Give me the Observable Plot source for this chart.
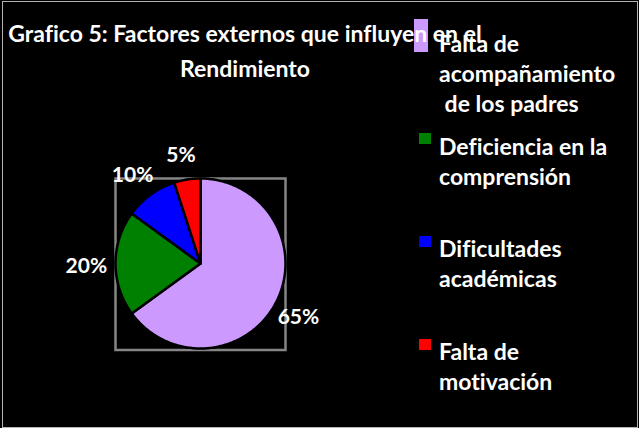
<!DOCTYPE html>
<html>
<head>
<meta charset="utf-8">
<script src="https://cdn.jsdelivr.net/npm/d3@7"></script>
<script src="https://cdn.jsdelivr.net/npm/@observablehq/plot@0.6"></script>
<style>
  html, body { margin: 0; padding: 0; background: #000; width: 639px; height: 428px; overflow: hidden; }
  #wrap { position: relative; width: 639px; height: 428px; font-family: Lato, "Open Sans", sans-serif; font-weight: bold; color: #fff; font-variant-ligatures: none; }
  #border { position: absolute; left: 2px; top: 1px; width: 636px; height: 427px; box-sizing: border-box; border: 1px solid #b4b4b4; }
  #chart { position: absolute; left: 0; top: 0; }
  #title { position: absolute; left: 0; top: 16px; width: 490px; text-align: center; font-size: 23px; line-height: 35px; white-space: pre; }
  #legend { position: absolute; left: 0; top: 0; }
  .sw { position: absolute; left: 419px; width: 12px; height: 11px; }
  .sw.first { left: 414px; width: 14px; height: 33px; }
  .txt { position: absolute; left: 439px; font-size: 23px; line-height: 30px; white-space: pre; }
</style>
</head>
<body>
<div id="wrap">
  <div id="border"></div>
  <div id="chart"></div>
  <div id="legend"></div>
  <div id="title"></div>
</div>
<script>
// ---- data ----
const titleText = "Grafico 5: Factores externos que influyen en el\nRendimiento";
const categories = [
  "Falta de acompañamiento de los padres",
  "Deficiencia en la comprensión",
  "Dificultades académicas",
  "Falta de motivación"
];
const legendLines = [
  ["Falta de", "acompañamiento", " de los padres"],
  ["Deficiencia en la", "comprensión"],
  ["Dificultades", "académicas"],
  ["Falta de", "motivación"]
];
const values = [65, 20, 10, 5];
const colors = ["#cc99ff", "#008000", "#0000ff", "#ff0000"];

// ---- pie geometry from data ----
const pie = d3.pie().sort(null).value(d => d.value);
const arcs = pie(categories.map((c, i) => ({category: c, value: values[i]})));
const total = d3.sum(values);

const slicePts = [];
for (const a of arcs) {
  const cat = a.data.category;
  slicePts.push({category: cat, x: 0, y: 0});
  const n = Math.max(2, Math.ceil((a.endAngle - a.startAngle) / (Math.PI / 180)));
  for (let k = 0; k <= n; k++) {
    const t = a.startAngle + (a.endAngle - a.startAngle) * k / n;
    slicePts.push({category: cat, x: Math.sin(t), y: Math.cos(t)});
  }
}

const labelR = 1.32;
const labels = arcs.map(a => {
  const m = (a.startAngle + a.endAngle) / 2;
  return {
    x: Math.sin(m) * labelR,
    y: Math.cos(m) * labelR,
    text: Math.round(a.data.value / total * 100) + "%"
  };
});

const chart = Plot.plot({
  width: 639,
  height: 428,
  marginLeft: 115,
  marginRight: 354,
  marginTop: 178,
  marginBottom: 80,
  x: {domain: [-1, 1], axis: null},
  y: {domain: [-1, 1], axis: null},
  color: {domain: categories, range: colors},
  style: {background: "transparent", fontFamily: "Lato, sans-serif", overflow: "visible"},
  marks: [
    Plot.frame({stroke: "#858585", strokeWidth: 2.5, insetBottom: -1.5}),
    Plot.line(slicePts, {x: "x", y: "y", z: "category", fill: "category", stroke: "#000", strokeWidth: 2.5, curve: "linear-closed", strokeLinejoin: "round"}),
    Plot.text(labels, {x: "x", y: "y", text: "text", fill: "#fff", fontSize: 21, fontWeight: "bold", dy: 3, dx: -2})
  ]
});
document.getElementById("chart").appendChild(chart);

document.getElementById("title").textContent = titleText;

// ---- legend ----
const legend = document.getElementById("legend");
const rowH = 102.7;
categories.forEach((c, i) => {
  const top = 28 + i * rowH;
  const sw = document.createElement("div");
  sw.className = "sw" + (i === 0 ? " first" : "");
  sw.style.background = colors[i];
  sw.style.top = (i === 0 ? 19 : Math.round(top + 2.5)) + "px";
  legend.appendChild(sw);
  const t = document.createElement("div");
  t.className = "txt";
  t.style.top = Math.round(top) + "px";
  t.textContent = legendLines[i].join("\n");
  legend.appendChild(t);
});
</script>
</body>
</html>
